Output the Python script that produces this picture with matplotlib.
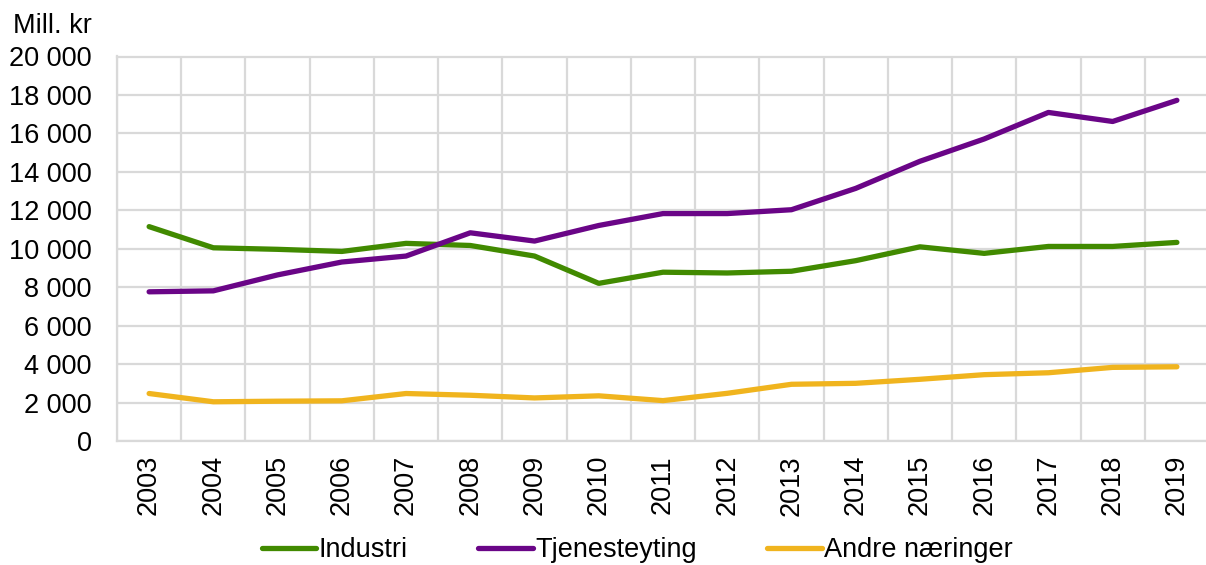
import matplotlib.pyplot as plt
import numpy as np

plt.rcParams['font.family'] = ['Liberation Sans', 'DejaVu Sans']

years = [str(y) for y in range(2003, 2020)]
industri = [11150, 10050, 9970, 9860, 10280, 10170, 9620, 8200, 8780,
            8740, 8830, 9380, 10100, 9760, 10120, 10120, 10330]
tjenesteyting = [7760, 7810, 8640, 9310, 9620, 10830, 10400, 11210, 11830,
                 11830, 12030, 13140, 14550, 15710, 17090, 16620, 17720]
andre = [2470, 2040, 2070, 2090, 2470, 2380, 2240, 2350, 2100,
         2480, 2950, 3000, 3210, 3450, 3550, 3830, 3860]
yticks = list(range(0, 20001, 2000))

green = '#418a00'
purple = '#6a0587'
yellow = '#f0b41e'
grid_c = '#d9d9d9'

fig = plt.figure(figsize=(12.06, 5.65), dpi=100)
ax = fig.add_axes([117 / 1206, 1 - 441 / 565, 1092 / 1206, (441 - 56.5) / 565])

x = np.arange(len(years))
ax.plot(x, industri, color=green, lw=3.8, label='Industri', solid_capstyle='round')
ax.plot(x, tjenesteyting, color=purple, lw=3.8, label='Tjenesteyting', solid_capstyle='round')
ax.plot(x, andre, color=yellow, lw=3.8, label='Andre næringer', solid_capstyle='round')

ax.set_xlim(-0.5, len(years) - 0.5)
ax.set_ylim(0, 20000)
ax.set_yticks(yticks)
ax.set_yticklabels([f'{v:,}'.replace(',', ' ') for v in yticks])
ax.set_xticks(x)
ax.set_xticklabels(years, rotation=90)
ax.set_xticks(np.arange(-0.5, len(years)), minor=True)

ax.grid(axis='y', color=grid_c, lw=1.6)
ax.grid(axis='x', which='minor', color=grid_c, lw=1.6)
ax.set_axisbelow(True)
for s in ax.spines.values():
    s.set_color(grid_c)
    s.set_linewidth(1.6)

ax.tick_params(axis='y', which='both', length=0, pad=18, labelsize=19.5)
ax.tick_params(axis='x', which='both', length=0, pad=10, labelsize=19.5)

fig.text(13 / 1206, 1 - 33 / 565, 'Mill. kr', fontsize=19.5, ha='left', va='baseline')

fig.legend(loc='center', bbox_to_anchor=(0.5286, 1 - 550 / 565), ncol=3, frameon=False,
           fontsize=19.5, handlelength=2.0, handletextpad=0.1, columnspacing=2.6)

fig.savefig('out.png', dpi=100)
